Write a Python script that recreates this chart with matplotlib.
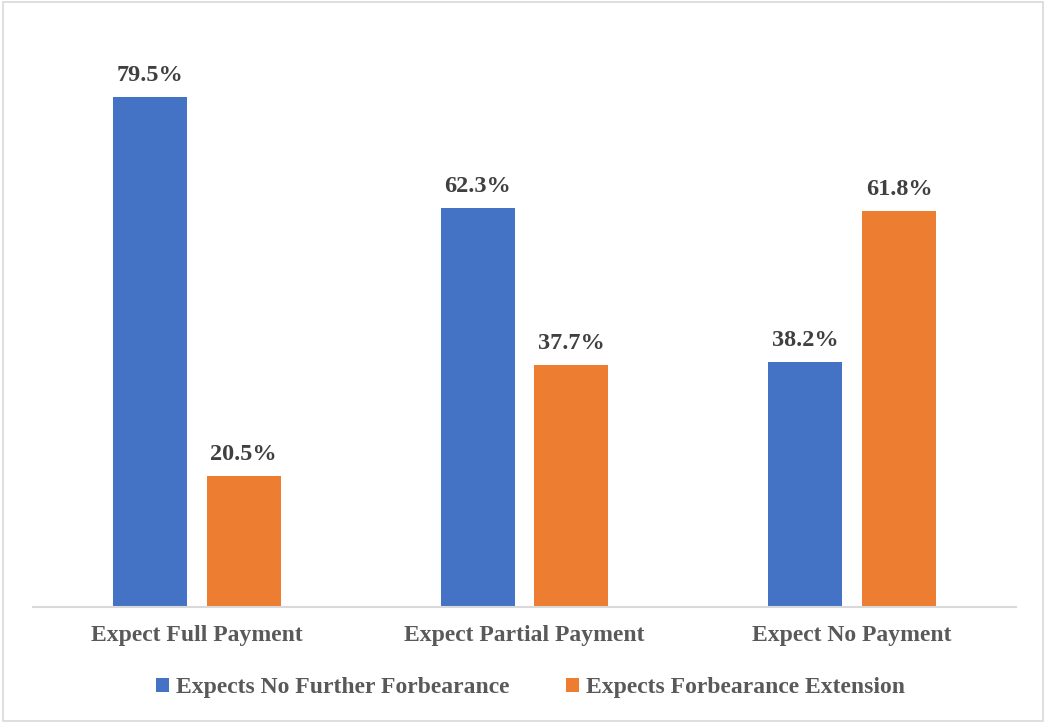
import numpy as np
import matplotlib.pyplot as plt
from matplotlib.patches import Rectangle

categories = ["Expect Full Payment", "Expect Partial Payment", "Expect No Payment"]
no_further = [79.5, 62.3, 38.2]
extension = [20.5, 37.7, 61.8]
series_names = ["Expects No Further Forbearance", "Expects Forbearance Extension"]

blue = "#4472C4"
orange = "#ED7D31"
text_col = "#595959"

plt.rcParams["font.family"] = ["Liberation Serif", "DejaVu Serif"]

fig = plt.figure(figsize=(10.46, 7.23), dpi=100)
ax = fig.add_axes([0.0315, 0.1604, 0.9398, 0.798])

x = np.arange(len(categories))
w = 0.226
off = 0.143
b1 = ax.bar(x - off, no_further, w, color=blue, label=series_names[0])
b2 = ax.bar(x + off, extension, w, color=orange, label=series_names[1])

for bars, vals in ((b1, no_further), (b2, extension)):
    for r, v in zip(bars, vals):
        ax.annotate(f"{v:.1f}%", (r.get_x() + r.get_width() / 2, v),
                    xytext=(0, 8), textcoords="offset points",
                    ha="center", va="bottom", fontsize=17.5,
                    fontweight="bold", color="#404040")

ax.set_xlim(-0.5, 2.5)
ax.set_ylim(0, 90)
ax.set_xticks(x)
ax.set_xticklabels(categories, fontsize=17, fontweight="bold", color=text_col)
ax.tick_params(axis="x", length=0, pad=13)
ax.set_yticks([])
for s in ("top", "right", "left"):
    ax.spines[s].set_visible(False)
ax.spines["bottom"].set_color("#D9D9D9")
ax.spines["bottom"].set_linewidth(1.5)

leg = fig.legend(loc="center", bbox_to_anchor=(0.507, 0.049), ncol=2,
                 frameon=False, handlelength=0.55, handleheight=0.55,
                 handletextpad=0.3, columnspacing=2.4,
                 prop={"size": 17, "weight": "bold"})
for t in leg.get_texts():
    t.set_color(text_col)

fig.patches.append(Rectangle((0.003, 0.003), 0.994, 0.994, transform=fig.transFigure,
                             fill=False, edgecolor="#D9D9D9", linewidth=1.2))

fig.savefig("out.png", dpi=100, facecolor="white")
